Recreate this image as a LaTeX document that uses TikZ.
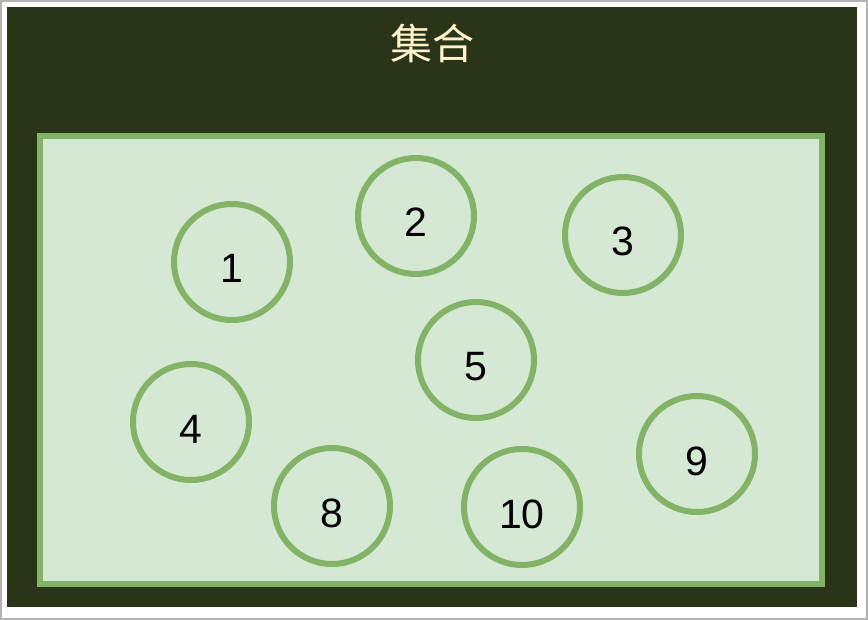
\documentclass[tikz,border=0pt]{standalone}
\usepackage{fontspec}
\setmainfont{Liberation Sans}
\newfontfamily\cjkfont{Noto Sans CJK SC}
\definecolor{boardbg}{HTML}{2A3518}
\definecolor{setfill}{HTML}{D5E8D4}
\definecolor{setline}{HTML}{82B366}
\definecolor{titlecol}{HTML}{FFF2CC}
\begin{document}
\begin{tikzpicture}[x=1pt,y=-1pt] % set of elements
\tikzstyle{every node}+=[inner sep=0pt]
\tikzstyle{elem}=[circle,draw=setline,line width=6pt,minimum size=116pt,text height=42pt,text depth=0pt,font=\fontsize{41}{41}\selectfont]
\useasboundingbox (0,0) rectangle (868,620);
\fill [white] (0,0) rectangle (868,620);
\draw [black!30,line width=1.5pt] (1,1) rectangle (867,619);
\fill [boardbg] (7,7) rectangle (857,607);
\node [text=titlecol,font=\cjkfont\fontsize{42}{42}\selectfont] (title) at (432,43) {集合};
\draw [setline,fill=setfill,line width=6pt] (40,136) rectangle (822,584);
\node [elem] (n1) at (232,262) {1};
\node [elem] (n2) at (416,216) {2};
\node [elem] (n3) at (623,235) {3};
\node [elem] (n4) at (191,422) {4};
\node [elem] (n5) at (476,360) {5};
\node [elem] (n8) at (332,506) {8};
\node [elem] (n9) at (697,454) {9};
\node [elem] (n10) at (522,507) {10};
\end{tikzpicture}
\end{document}
